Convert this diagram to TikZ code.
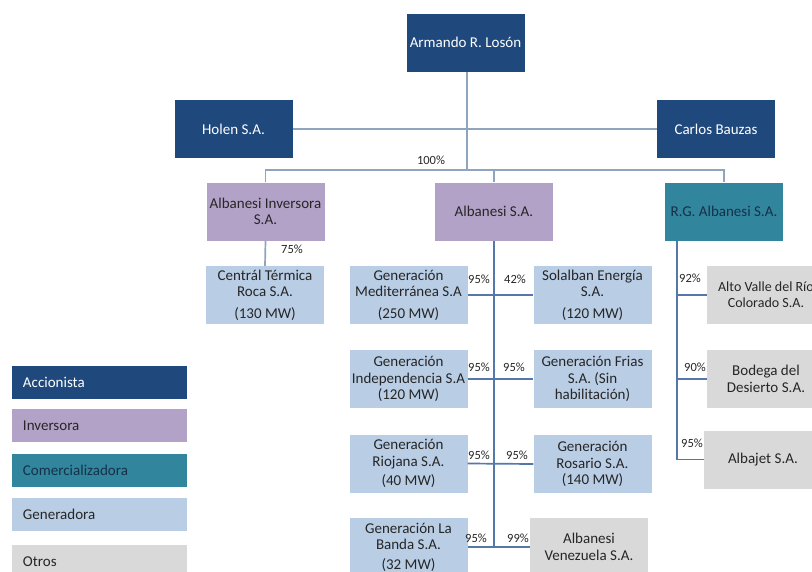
\documentclass[tikz,border=0pt]{standalone}
\usepackage{fontspec}
\setmainfont{Carlito}
\definecolor{accblue}{HTML}{1F497D}
\definecolor{invpurple}{HTML}{B3A2C7}
\definecolor{comteal}{HTML}{31859C}
\definecolor{genblue}{HTML}{B9CDE5}
\definecolor{otrgray}{HTML}{D9D9D9}
\definecolor{txtdark}{HTML}{262626}
\definecolor{navytxt}{HTML}{17304A}
\definecolor{lineLight}{HTML}{8FA5BF}
\definecolor{lineDark}{HTML}{5577AA}
\begin{document}
\begin{tikzpicture}[x=1pt,y=-1pt,
  box/.style={draw=none, minimum width=118pt, minimum height=58pt, inner xsep=0.5pt, inner ysep=1pt, align=center, font=\fontsize{15}{16.5}\selectfont},
  acc/.style={box, fill=accblue, text=white},
  inv/.style={box, fill=invpurple, text=txtdark},
  com/.style={box, fill=comteal, text=navytxt},
  gen/.style={box, fill=genblue, text=txtdark},
  otr/.style={box, fill=otrgray, text=txtdark},
  pct/.style={font=\fontsize{12.5}{14}\selectfont, inner sep=0pt, text=txtdark},
  lnA/.style={draw=lineLight, line width=1.7pt},
  lnB/.style={draw=lineDark, line width=1.7pt},
  leg/.style={minimum height=33pt, text width=153pt, inner xsep=11pt, inner ysep=0pt, align=left, font=\fontsize{15}{16}\selectfont}
]
\clip (0,0) rectangle (812,571);
\fill[white] (0,0) rectangle (812,571);

% top level
\node[acc] (armando) at (465.5,42.5) {Armando R. Losón};
\node[acc] (holen) at (233.5,129) {Holen S.A.};
\node[acc] (carlos) at (716,129) {Carlos Bauzas};

% second level
\node[inv] (inv) at (265.5,211.5) {Albanesi Inversora\\S.A.};
\node[inv] (alb) at (494,211.5) {Albanesi S.A.};
\node[com] (rg) at (724,211.5) {R.G. Albanesi S.A.};

% generadoras
\node[gen] (central) at (265,295) {Centrál Térmica\\Roca S.A.\\[5pt](130 MW)};
\node[gen] (medit) at (408.5,295) {Generación\\Mediterránea S.A\\[5pt](250 MW)};
\node[gen] (solalban) at (592.5,295) {Solalban Energía\\S.A.\\[5pt](120 MW)};
\node[gen] (indep) at (408.5,379) {Generación\\Independencia S.A\\(120 MW)};
\node[gen] (frias) at (592.5,379) {Generación Frias\\S.A. (Sin\\habilitación)};
\node[gen] (riojana) at (408.5,463.5) {Generación\\Riojana S.A.\\[3pt](40 MW)};
\node[gen] (rosario) at (592.5,464) {Generación\\Rosario S.A.\\(140 MW)};
\node[gen] (banda) at (408.5,547) {Generación La\\Banda S.A.\\[3pt](32 MW)};
\node[otr] (venez) at (589,547) {Albanesi\\Venezuela S.A.};
\node[otr, font=\fontsize{14}{16}\selectfont] (altovalle) at (766,295) {Alto Valle del Río\\Colorado S.A.};
\node[otr] (bodega) at (766,379) {Bodega del\\Desierto S.A.};
\node[otr] (albajet) at (763,459.5) {Albajet S.A.};

% connectors
\coordinate (bus) at (467,170);
\draw[lnA] (holen.east) -- (carlos.west);
\draw[lnA] (armando.south -| bus) -- (bus);
\draw[lnA] (inv.north) -- (inv.north |- bus) -- (rg.north |- bus) -- (rg.north);
\draw[lnA] (alb.north) -- (alb.north |- bus);
\draw[lnA] (inv.south) -- (central.north);

\draw[lnB] (alb.south) -- (alb.south |- banda.east);
\draw[lnB] (medit.east) -- (solalban.west);
\draw[lnB] (indep.east) -- (frias.west);
\draw[lnB] (riojana.east) -- (rosario.west);
\draw[lnB] (banda.east) -- (venez.west);

\coordinate (rgt) at ([xshift=12pt]rg.south west);
\draw[lnB] (rgt) |- (albajet.west);
\draw[lnB] (altovalle.west) -- (altovalle.west -| rgt);
\draw[lnB] (bodega.west) -- (bodega.west -| rgt);

% percentages
\node[pct] (p100) at (431,160) {100\%};
\node[pct] (p75) at (292,249) {75\%};
\node[pct] (pm) at (479,279) {95\%};
\node[pct] (ps) at (515,279) {42\%};
\node[pct] (pi) at (479,367) {95\%};
\node[pct] (pf) at (514,367) {95\%};
\node[pct] (pr) at (479,455) {95\%};
\node[pct] (pro) at (517,455) {95\%};
\node[pct] (pb) at (476,538) {95\%};
\node[pct] (pv) at (518,538) {99\%};
\node[pct] (pav) at (690,278) {92\%};
\node[pct] (pbd) at (695,367) {90\%};
\node[pct] (paj) at (692,443) {95\%};

% legend
\node[leg, fill=accblue, text=white] (lacc) at (99.5,382) {Accionista};
\node[leg, fill=invpurple, text=txtdark] (linv) at (99.5,425.5) {Inversora};
\node[leg, fill=comteal, text=navytxt] (lcom) at (99.5,470.5) {Comercializadora};
\node[leg, fill=genblue, text=txtdark] (lgen) at (99.5,514.5) {Generadora};
\node[leg, fill=otrgray, text=txtdark] (lotr) at (99.5,561.5) {Otros};
\end{tikzpicture}
\end{document}
